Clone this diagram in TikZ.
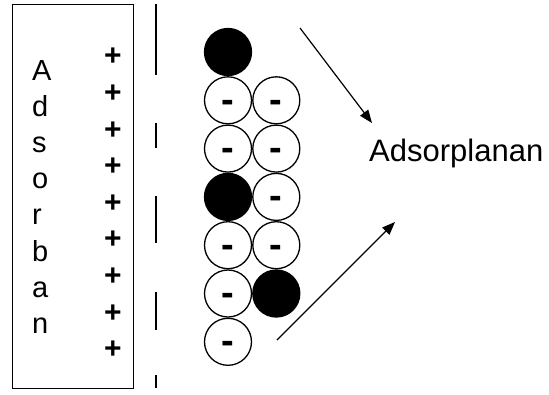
\documentclass[tikz,border=0pt]{standalone}
\usepackage{fontspec}
\setmainfont{Liberation Sans}
\usetikzlibrary{positioning,arrows.meta}

\tikzset{
  ion/.style={circle,draw,line width=1.3pt,minimum size=47pt,inner sep=0pt,
    text height=24pt,text depth=0pt,font=\fontsize{38}{38}\selectfont\bfseries},
  full/.style={ion,fill=black},
  charge/.style={font=\fontsize{30}{30}\selectfont\bfseries,inner sep=0pt},
  letter/.style={anchor=base west,font=\fontsize{29}{29}\selectfont,inner sep=0pt},
  pointer/.style={-{Triangle[length=13pt,width=10pt]},line width=1.2pt},
}

\begin{document}
\begin{tikzpicture}[x=1pt,y=-1pt]
  \useasboundingbox (0,0) rectangle (549,394);

  % adsorbent box
  \node[draw,line width=1.3pt,minimum width=121pt,minimum height=384pt,
    anchor=north west,inner sep=0pt] (box) at (12,4) {};
  \foreach \c [count=\i from 0] in {A,d,s,o,r,b,a,n}
    \node[letter] (l\i) at (32,80+36.2*\i) {\c};
  \foreach \i in {0,...,8}
    \node[charge] (p\i) at (113,57+36.6*\i) {+};

  % dashed plane
  \foreach \a/\b in {4/75,123/148,196/243,292/330,375/388}
    \draw[line width=1.2pt] (156,\a) -- (156,\b);

  % first column
  \node[full] (a1) at (228,52) {};
  \node[ion,below=0pt of a1] (a2) {-};
  \node[ion,below=0pt of a2] (a3) {-};
  \node[full,below=0pt of a3] (a4) {};
  \node[ion,below=0pt of a4] (a5) {-};
  \node[ion,below=0pt of a5] (a6) {-};
  \node[ion,below=0pt of a6] (a7) {-};

  % second column
  \node[ion,right=0pt of a2] (b2) {-};
  \node[ion,right=0pt of a3] (b3) {-};
  \node[ion,right=0pt of a4] (b4) {-};
  \node[ion,right=0pt of a5] (b5) {-};
  \node[full,right=0pt of a6] (b6) {};

  \node[anchor=base west,inner sep=0pt,font=\fontsize{31}{31}\selectfont]
    (label) at (369,161.7) {Adsorplanan};

  \coordinate (s1) at (300,28);
  \coordinate (e1) at (372,123);
  \coordinate (s2) at (277,340);
  \coordinate (e2) at (395,222);
  \draw[pointer] (s1) -- (e1);
  \draw[pointer] (s2) -- (e2);

\end{tikzpicture}
\end{document}
